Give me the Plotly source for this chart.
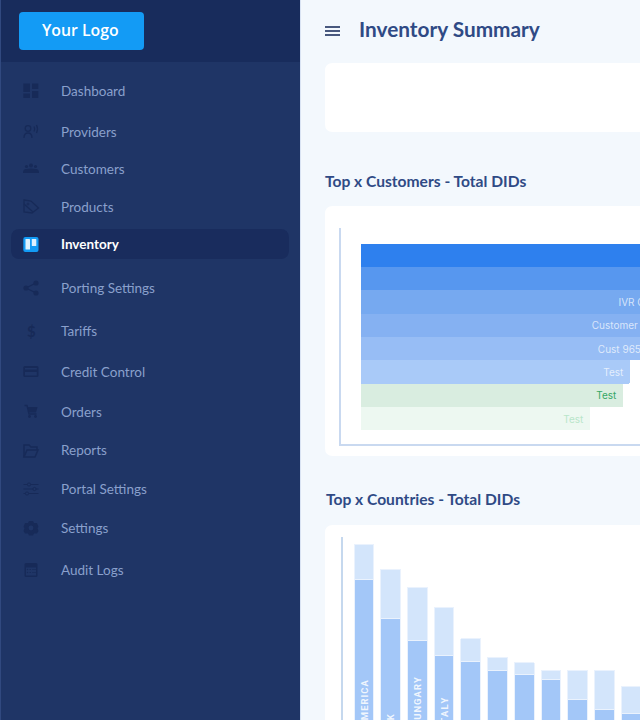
import plotly.graph_objects as go

# sidebar
menu_items = ["Dashboard", "Providers", "Customers", "Products", "Inventory", "Porting Settings",
              "Tariffs", "Credit Control", "Orders", "Reports", "Portal Settings", "Settings", "Audit Logs"]
menu_y = [91, 132, 169, 207, 244, 288, 330.5, 372, 412, 450, 489, 528, 570]

# top customers
customer_labels = ["", "", "IVR Customer", "Customer 1234", "Cust 9654", "Test", "Test", "Test"]
customer_dids = [400, 360, 329, 309, 293, 269, 262, 229]

# top countries
country_labels = ["AMERICA", "UK", "HUNGARY", "ITALY", "", "", "", "", "", "", ""]
country_used = [151.5, 112.5, 90.5, 75, 69.5, 60.5, 56.5, 51.5, 31.5, 21.5, 17]
country_free = [34.5, 49, 53, 48.5, 23, 13, 12, 9, 29, 39, 27.5]

customer_colors = ["#2e80ee", "#5797ef", "#76a9f0", "#85b1f2", "#97bdf5", "#a9caf8", "#d9ede0", "#edf8f1"]
customer_text = ["rgba(255,255,255,0.7)"] * 6 + ["#35a765", "#b9e6ca"]

SIDEBAR = "#1f3566"
ICON = "#172a58"
MENU = "#8aa0cc"
HEAD = "#2f4a85"


def spaced(s):
    return "\u200a".join(s)


fig = go.Figure()
# dummy trace so the full page axes exist first and sit under the charts
fig.add_trace(go.Scatter(x=[], y=[], xaxis="x", yaxis="y"))

fig.add_trace(go.Bar(
    y=list(range(len(customer_dids))), x=customer_dids, orientation="h", width=1.0,
    xaxis="x2", yaxis="y2",
    marker=dict(color=customer_colors, line=dict(width=0)),
    text=[s + "\u2009\u2009" if s else s for s in customer_labels], textposition="inside", insidetextanchor="end",
    textangle=0, constraintext="none", textfont=dict(family="Inter", size=10, color=customer_text),
))

fig.add_trace(go.Bar(
    x=list(range(len(country_used))), y=country_used, width=0.74,
    xaxis="x3", yaxis="y3",
    marker=dict(color="#a3c7f8", line=dict(color="#eaf2fd", width=1)),
    text=[spaced(s) for s in country_labels], textposition="inside", insidetextanchor="start", textangle=-90,
    constraintext="none", textfont=dict(family="Roboto", size=9.5, color="rgba(255,255,255,0.85)", weight=700),
))
fig.add_trace(go.Bar(
    x=list(range(len(country_free))), y=country_free, width=0.74,
    xaxis="x3", yaxis="y3",
    marker=dict(color="#d3e5fb", line=dict(color="#eaf2fd", width=1)),
))

shapes = []


def rect(x0, y0, x1, y1, fill, r=0):
    if r == 0:
        shapes.append(dict(type="rect", x0=x0, y0=y0, x1=x1, y1=y1, fillcolor=fill, line_width=0,
                           xref="x", yref="y", layer="below"))
        return
    p = (f"M{x0+r},{y0} L{x1-r},{y0} Q{x1},{y0} {x1},{y0+r} L{x1},{y1-r} Q{x1},{y1} {x1-r},{y1} "
         f"L{x0+r},{y1} Q{x0},{y1} {x0},{y1-r} L{x0},{y0+r} Q{x0},{y0} {x0+r},{y0} Z")
    shapes.append(dict(type="path", path=p, fillcolor=fill, line_width=0, xref="x", yref="y", layer="below"))


def circle(cx, cy, r, fill=None, stroke=None, w=1.3):
    shapes.append(dict(type="circle", x0=cx-r, x1=cx+r, y0=cy-r, y1=cy+r, xref="x", yref="y", layer="below",
                       fillcolor=fill if fill else "rgba(0,0,0,0)",
                       line=dict(color=stroke if stroke else "rgba(0,0,0,0)", width=w if stroke else 0)))


def stroke(path, color=ICON, w=1.3):
    shapes.append(dict(type="path", path=path, line=dict(color=color, width=w), xref="x", yref="y", layer="below"))


def solid(path, color=ICON):
    shapes.append(dict(type="path", path=path, fillcolor=color, line_width=0, xref="x", yref="y", layer="below"))


# page blocks
rect(0, 0, 300, 720, SIDEBAR)
rect(0, 0, 300, 62, "#182c5c")
rect(0, 0, 1, 720, "#31497f")
rect(300, 0, 301, 720, "#d9e3f3")
rect(19, 12, 144, 50, "#139bf5", 4)
rect(11, 229, 289, 259, "#192c5d", 9)
rect(325, 63, 660, 132, "#ffffff", 8)
rect(325, 206, 660, 456, "#ffffff", 8)
rect(325, 525, 660, 740, "#ffffff", 8)

# hamburger
for y in (27, 31, 35):
    stroke(f"M325,{y} L340,{y}", "#1c2f5e", 1.6)

# dashboard
rect(23.3, 83.5, 30, 92, ICON)
rect(23.3, 93.5, 30, 98, ICON)
rect(32, 83.5, 38.3, 89, ICON)
rect(32, 91, 38.3, 98, ICON)
# providers
circle(28, 128.5, 2.8, stroke=ICON)
stroke("M24,138 Q24,133 28,133 Q32,133 32,138")
stroke("M34,126.5 Q35.5,129 34,131.5")
stroke("M36.5,125 Q38.5,129 36.5,133")
# customers
for cx, cy, r in [(31, 165.5, 2), (26.5, 166.5, 1.6), (35.5, 166.5, 1.6)]:
    circle(cx, cy, r, fill=ICON)
solid("M23,173 Q23,169 26,169 Q28,168.5 31,168.5 Q34,168.5 36,169 Q39,169 39,173 Z")
# products
stroke("M24,200 L31,201 L38.5,208 L32,213 L24,212 Z")
stroke("M24,204 L33,212")
circle(28, 204, 1, stroke=ICON, w=1)
# inventory
rect(23.3, 237, 38.5, 252, "#139bf5", 2)
rect(25.5, 239, 30, 249.5, "#dff1fe", 0.6)
rect(31.8, 239, 36.3, 246, "#dff1fe", 0.6)
# porting
stroke("M36,283 L26,288 L36,293")
circle(36, 283, 2.6, fill=ICON)
circle(26, 288, 2.6, fill=ICON)
circle(36, 293, 2.6, fill=ICON)
# credit control
rect(23.3, 366, 38.5, 377, ICON, 1.5)
rect(25, 368, 36.8, 369.5, SIDEBAR)
rect(25, 372, 36.8, 375.5, SIDEBAR)
# orders
stroke("M24.5,405.5 L27,405.5 L29,414 L36.5,414", ICON, 1.4)
solid("M27.5,407 L37.5,407 L36,412.5 L29,412.5 Z")
circle(29.5, 416.5, 1.4, fill=ICON)
circle(35.5, 416.5, 1.4, fill=ICON)
# reports
stroke("M24,457 L24,445 L29,445 L31,447 L37,447 L37,450", ICON, 1.5)
stroke("M24,457 L27,450 L38,450 L35,457 Z", ICON, 1.5)
# portal settings
for y, k in [(484.5, 29), (489, 34.5), (493.5, 27)]:
    stroke(f"M23.5,{y} L38.5,{y}", ICON, 1)
    circle(k, y, 1.6, fill=SIDEBAR, stroke=ICON, w=1)
# settings gear
solid("M29,521 L33,521 L34,523 L37,523 L38.5,527 L37.5,528 L38.5,531 L37,533.5 L34,533.5 L33,535.5 L29,535.5 "
      "L28,533.5 L25,533.5 L23.5,531 L24.5,528 L23.5,527 L25,523 L28,523 Z")
circle(31, 528, 2.4, fill=SIDEBAR)
# audit logs
rect(24.5, 563, 37.5, 577, ICON, 1.5)
rect(26, 567.5, 36, 575.5, SIDEBAR)
for x in (27.5, 30.2, 33, 35):
    for y in (569.5, 572.5):
        rect(x-0.6, y-0.6, x+0.6, y+0.6, ICON)

notes = []


def label(x, y, s, size, color, family="Lato", weight=400, anchor="left"):
    notes.append(dict(x=x, y=y, xref="x", yref="y", text=s, showarrow=False, xanchor=anchor, yanchor="middle",
                      borderpad=0, borderwidth=0,
                      font=dict(family=family, size=size, color=color, weight=weight)))


for name, y in zip(menu_items, menu_y):
    if name == "Inventory":
        label(61, y, name, 13.5, "#ffffff", weight=700)
    else:
        label(61, y, name, 13.5, MENU)

label(42, 29.5, "Your Logo", 15.8, "#ffffff", family="Open Sans", weight=600)
label(31, 330.5, "$", 15, ICON, weight=700, anchor="center")
label(359, 28.5, "Inventory Summary", 20.8, HEAD, weight=700)
label(325, 181, "Top x Customers - Total DIDs", 15.6, HEAD, weight=700)
label(326, 499, "Top x Countries - Total DIDs", 15.6, HEAD, weight=700)

fig.update_layout(
    width=640, height=720, autosize=False, margin=dict(l=0, r=0, t=0, b=0),
    paper_bgcolor="#f3f8fd", plot_bgcolor="rgba(0,0,0,0)", showlegend=False, barmode="stack",
    shapes=shapes, annotations=notes, barcornerradius=1,
    xaxis=dict(domain=[0, 1], range=[0, 640], visible=False),
    yaxis=dict(domain=[0, 1], range=[720, 0], visible=False),
    xaxis2=dict(domain=[341 / 640, 1], range=[-20, 279], showgrid=False, zeroline=False, showticklabels=False,
                ticks="", showline=True, linecolor="#c9d9f0", linewidth=1.5, anchor="y2"),
    yaxis2=dict(domain=[1 - 443.5 / 720, 1 - 228 / 720], range=[8.064, -1.167], showgrid=False, zeroline=False,
                showticklabels=False, ticks="", showline=True, linecolor="#c9d9f0", linewidth=1.5, anchor="x2"),
    xaxis3=dict(domain=[343 / 640, 1], range=[-0.787, 10.337], showgrid=False, zeroline=False,
                showticklabels=False, ticks="", anchor="y3"),
    yaxis3=dict(domain=[0, 1 - 537 / 720], range=[10.5, 193.5], showgrid=False, zeroline=False,
                showticklabels=False, ticks="", showline=True, linecolor="#c5d8ee", linewidth=2, anchor="x3"),
)

fig.write_html("out.html", config={"displayModeBar": False}, post_script="document.body.style.margin='0';")
